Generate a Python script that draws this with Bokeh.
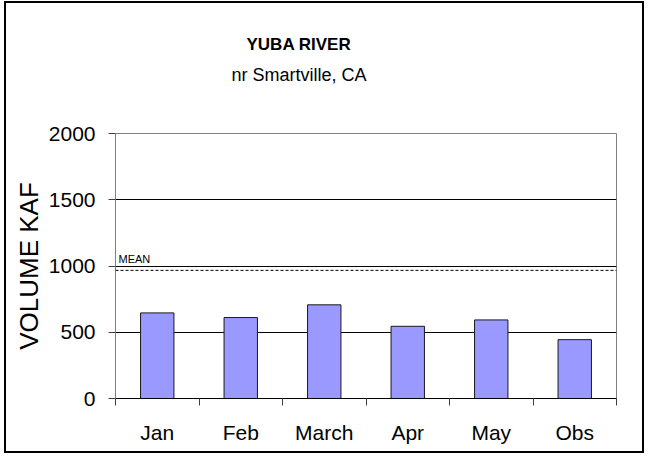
from bokeh.plotting import figure
from bokeh.models import Range1d, FixedTicker, Span, Label, ColumnDataSource, Title
from bokeh.embed import file_html
from bokeh.resources import INLINE

# ---- data ----
categories = ["Jan", "Feb", "March", "Apr", "May", "Obs"]
volumes = [646, 611, 707, 545, 593, 444]
mean_volume = 967
y_ticks = [0, 500, 1000, 1500, 2000]
grid_values = [500, 1000, 1500]
title_text = "YUBA RIVER"
subtitle_text = "nr Smartville, CA"
y_label = "VOLUME KAF"
mean_text = "MEAN"

# ---- layout / style ----
FONT = "Liberation Sans"
W, H = 640, 452
LEFT, RIGHT, BOTTOM = 109, 30, 57
Y_MAX = y_ticks[-1]
n = len(categories)

centres = [i + 0.5 for i in range(n)]
bounds = list(range(n + 1))
source = ColumnDataSource(dict(x=centres, top=volumes, cat=categories))

p = figure(width=W, height=H, x_range=Range1d(0, n), y_range=Range1d(0, Y_MAX),
           output_backend="svg", toolbar_location=None,
           min_border_left=LEFT, min_border_right=RIGHT,
           min_border_top=0, min_border_bottom=BOTTOM,
           background_fill_color="white", border_fill_color="white")
p.styles = {"border": "2px solid black", "margin": "1px 0px 0px 4px"}

p.outline_line_color = "#808080"
p.outline_line_width = 1
p.xgrid.visible = False
p.ygrid.ticker = FixedTicker(ticks=grid_values)
p.ygrid.grid_line_color = "black"
p.ygrid.grid_line_width = 1

# y axis
ya = p.yaxis[0]
ya.ticker = FixedTicker(ticks=y_ticks, minor_ticks=[])
ya.axis_line_color = "#808080"
ya.major_tick_line_color = "#404040"
ya.major_tick_in = 0
ya.major_tick_out = 7
ya.minor_tick_line_color = None
ya.major_label_standoff = 13
ya.major_label_text_font = FONT
ya.major_label_text_font_size = "21px"
ya.major_label_text_color = "black"
ya.axis_label = y_label
ya.axis_label_text_font = FONT
ya.axis_label_text_font_size = "26px"
ya.axis_label_text_font_style = "normal"
ya.axis_label_text_color = "black"
ya.axis_label_standoff = 2

# x axis: category labels at centres, tick marks between categories
xa = p.xaxis[0]
xa.ticker = FixedTicker(ticks=centres, minor_ticks=bounds)
xa.major_label_overrides = {c: cat for c, cat in zip(centres, categories)}
xa.axis_line_color = "black"
xa.major_tick_line_color = None
xa.major_tick_in = 0
xa.major_tick_out = 7
xa.minor_tick_line_color = "#404040"
xa.minor_tick_in = 0
xa.minor_tick_out = 7
xa.major_label_standoff = 15
xa.major_label_text_font = FONT
xa.major_label_text_font_size = "21px"
xa.major_label_text_color = "black"

# bars
p.vbar(x="x", top="top", width=0.4, bottom=0, source=source,
       fill_color="#9999FF", line_color="#1a1a1a", line_width=1)

# mean line
p.add_layout(Span(location=mean_volume, dimension="width", line_color="black",
                  line_width=1, line_dash="3 2"))
p.add_layout(Label(x=0, y=mean_volume, x_offset=3, y_offset=5, text=mean_text,
                   text_font=FONT, text_font_size="11px", text_color="black",
                   text_baseline="bottom", text_align="left"))

# title panels: first added sits nearest the frame
p.add_layout(Title(text=" ", align="left", standoff=26.6,
                   text_font=FONT, text_font_size="18px"), "above")
p.add_layout(Title(text=subtitle_text, align="left", offset=116, standoff=0,
                   text_font=FONT, text_font_size="18px", text_font_style="normal",
                   text_color="black"), "above")
p.add_layout(Title(text=title_text, align="left", offset=131, standoff=17,
                   text_font=FONT, text_font_size="17px", text_font_style="bold",
                   text_color="black"), "above")
p.add_layout(Title(text=" ", align="left", standoff=4.8,
                   text_font=FONT, text_font_size="12px"), "above")

open("out.html", "w").write(file_html(p, INLINE))
